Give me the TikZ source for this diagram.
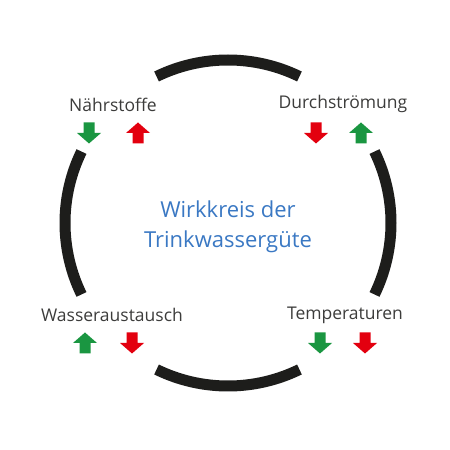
\documentclass[tikz,border=0pt]{standalone}
\usepackage{fontspec}
\setmainfont{Open Sans}
\usetikzlibrary{positioning}
\definecolor{ringgray}{HTML}{1D1D1B}
\definecolor{textgray}{HTML}{3C3C3B}
\definecolor{titleblue}{HTML}{3A78C3}
\definecolor{upgreen}{HTML}{1A9641}
\definecolor{downred}{HTML}{E3000F}
\tikzset{ring/.style = {line width=11pt, ringgray}}
\tikzset{lbl/.style = {text=textgray, font=\fontsize{17.5}{20}\selectfont, inner sep=0}}
\tikzset{title/.style = {text=titleblue, font=\fontsize{22}{30}\selectfont, align=center, inner sep=0}}
\tikzset{arrowup/.pic = {\fill (-5.5,-10.5) -- (-5.5,0) -- (-12,0) -- (0,10.5)
                                 -- (12,0) -- (5.5,0) -- (5.5,-10.5) -- cycle;}}
\tikzset{arrowdown/.pic = {\fill (-5.5,10.5) -- (-5.5,0) -- (-12,0) -- (0,-10.5)
                                   -- (12,0) -- (5.5,0) -- (5.5,10.5) -- cycle;}}

\begin{document}
\begin{tikzpicture}[x=1pt, y=1pt]
    \useasboundingbox (0, 0) rectangle (450, 450);
    \coordinate (c) at (228, 227);
    % ring segments
    \draw [ring] ([shift={(64:163pt)}]c) arc (64:116:163pt);
    \draw [ring] ([shift={(154:163pt)}]c) arc (154:206:163pt);
    \draw [ring] ([shift={(244:163pt)}]c) arc (244:296:163pt);
    \draw [ring] ([shift={(-26:163pt)}]c) arc (-26:26:163pt);
    \node [title] (wirk) at (228, 223) {Wirkkreis der\\Trinkwassergüte};
    % factors
    \node [lbl] (naehr) at (113, 345) {Nährstoffe};
    \node [lbl] (durch) at (343, 346) {Durchströmung};
    \node [lbl] (wasser) at (112, 135) {Wasseraustausch};
    \node [lbl] (temp) at (345, 135) {Temperaturen};
    \pic [upgreen] at (89, 317) {arrowdown};
    \pic [downred] at (138, 317) {arrowup};
    \pic [downred] at (316, 317) {arrowdown};
    \pic [upgreen] at (361, 317) {arrowup};
    \pic [upgreen] at (85, 107) {arrowup};
    \pic [downred] at (132, 107) {arrowdown};
    \pic [upgreen] at (320, 107) {arrowdown};
    \pic [downred] at (365, 107) {arrowdown};
\end{tikzpicture}
\end{document}
